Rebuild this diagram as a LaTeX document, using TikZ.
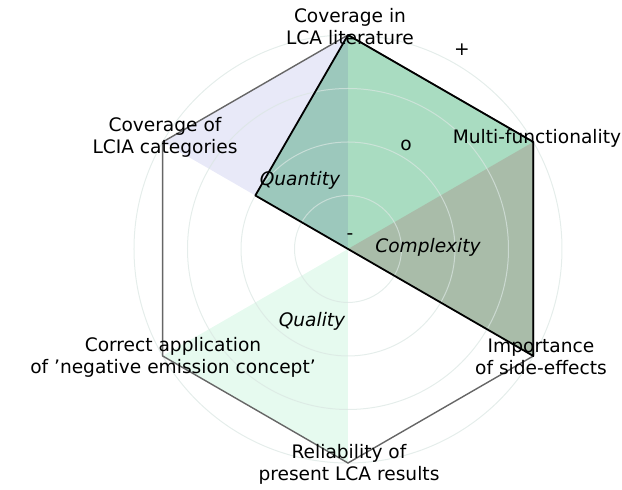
\documentclass[tikz,border=0pt]{standalone}
\usepackage{fontspec}
\setmainfont{DejaVu Sans}
\usepackage{tikz}
\usetikzlibrary{calc}
\definecolor{lavsector}{RGB}{232,233,248}
\definecolor{mintsector}{RGB}{230,250,239}
\definecolor{datafill}{RGB}{169,220,193}
\definecolor{tealfill}{RGB}{156,200,188}
\definecolor{complexfill}{RGB}{169,188,169}
\definecolor{gridc}{RGB}{218,230,226}

\begin{document}
\begin{tikzpicture}[x=0.5pt,y=0.5pt,
    axislabel/.style={inner sep=0pt,align=center,font=\fontsize{9.3}{11}\selectfont},
    sectorlabel/.style={inner sep=0pt,font=\fontsize{9.3}{11}\selectfont\itshape},
    ticklabel/.style={inner sep=0pt,font=\fontsize{9.3}{11}\selectfont}]
    \useasboundingbox (-348,-241) rectangle (274,249);
    % axes of the hexagon
    \coordinate (O) at (0,0);
    \coordinate (T) at (90:214);
    \coordinate (UR) at (30:214);
    \coordinate (LR) at (-30:214);
    \coordinate (B) at (-90:214);
    \coordinate (LL) at (210:214);
    \coordinate (UL) at (150:214);
    \coordinate (Q) at (150:107);
    % sectors and data
    \fill[lavsector] (O) -- (T) -- (UL) -- cycle;
    \fill[mintsector] (O) -- (B) -- (LL) -- cycle;
    \fill[datafill] (T) -- (UR) -- (LR) -- (O) -- (Q) -- cycle;
    \fill[tealfill] (O) -- (T) -- (Q) -- cycle;
    \fill[complexfill] (O) -- (UR) -- (LR) -- cycle;
    % grid
    \foreach \r in {53.5,107,160.5,214}
        \draw[gridc,line width=0.5pt,opacity=0.7] (O) circle (\r);
    \draw[black!60,line width=0.7pt] (T) -- (UR) -- (LR) -- (B) -- (LL) -- (UL) -- cycle;
    \draw[black,line width=0.9pt,line join=round] (T) -- (UR) -- (LR) -- (O) -- (Q) -- cycle;
    % labels
    \node[axislabel] (lit) at (2,222) {Coverage in\\LCA literature};
    \node[axislabel] (multi) at (189,111) {Multi-functionality};
    \node[axislabel] (side) at (193,-108) {Importance\\of side-effects};
    \node[axislabel] (rel) at (1,-215) {Reliability of\\present LCA results};
    \node[axislabel] (neg) at (-175,-108) {Correct application\\of 'negative emission concept'};
    \node[axislabel] (lcia) at (-183,112) {Coverage of\\LCIA categories};
    \node[sectorlabel] (quant) at (-48,69) {Quantity};
    \node[sectorlabel] (compl) at (80,2) {Complexity};
    \node[sectorlabel] (qual) at (-36,-72) {Quality};
    \node[ticklabel] (plus) at (114,199) {+};
    \node[ticklabel] (mid) at (58,104) {o};
    \node[ticklabel] (minus) at (2,12) {-};
\end{tikzpicture}
\end{document}
